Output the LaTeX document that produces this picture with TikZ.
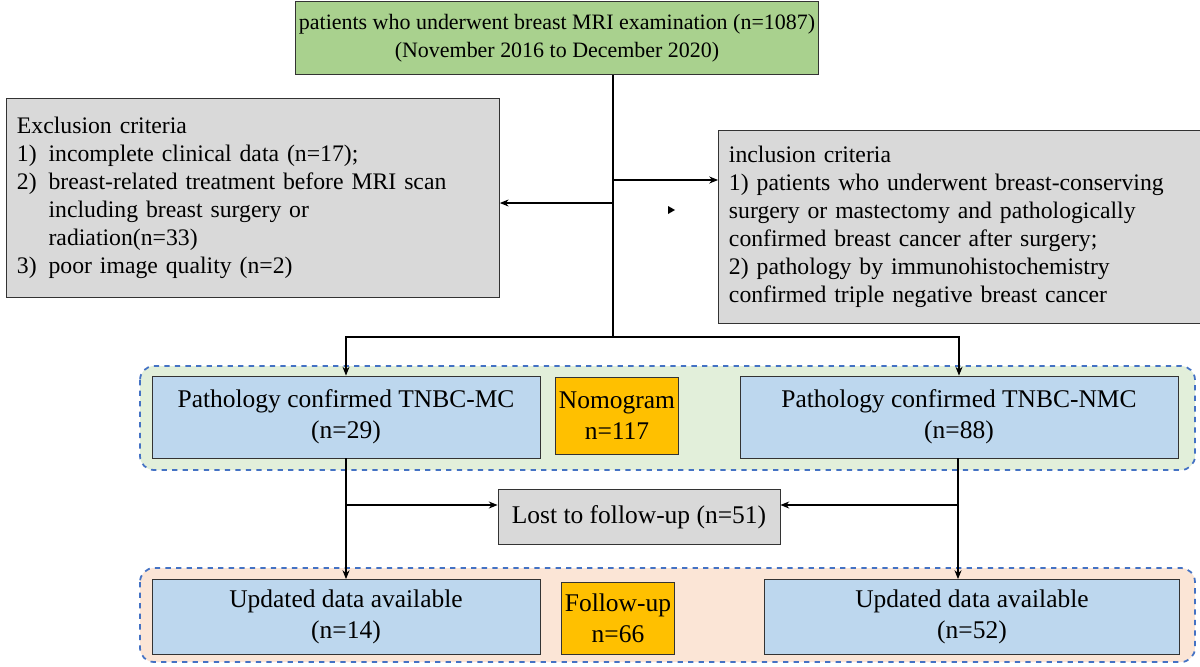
\documentclass[tikz,border=0pt]{standalone}
\usepackage{fontspec}
\setmainfont{Liberation Serif}
\usetikzlibrary{arrows.meta}
\definecolor{topgreen}{HTML}{A9D18E}
\definecolor{boxgray}{HTML}{D9D9D9}
\definecolor{boxblue}{HTML}{BDD7EE}
\definecolor{boxorange}{HTML}{FFC000}
\definecolor{areagreen}{HTML}{E2EFDA}
\definecolor{areapink}{HTML}{FBE5D6}
\definecolor{dashblue}{HTML}{4472C4}
\begin{document}
\begin{tikzpicture}[x=0.02cm,y=-0.02cm,font=\fontsize{14.5}{17.5}\selectfont]
\tikzset{box/.style={draw=black!80,line width=0.5pt,inner sep=2pt,align=center},
  crit/.style={box,fill=boxgray,inner sep=6pt,align=left,anchor=north west,font=\fontsize{13.5}{16}\selectfont},
  area/.style={draw=dashblue,dashed,line width=1pt,rounded corners=8pt},
  arr/.style={-{Stealth[length=5pt,width=4pt]},line width=0.6pt}}
\useasboundingbox (0,0) rectangle (1200,666);
% background areas
\draw [area,fill=areagreen] (140,366) rectangle (1195,470);
\draw [area,fill=areapink] (140,568) rectangle (1195,662);
% top
\node [box,fill=topgreen,minimum width=10.04cm,minimum height=1.46cm,font=\fontsize{12.5}{16}\selectfont] (top) at (557,38)
  {patients who underwent breast MRI examination (n=1087)\\(November 2016 to December 2020)};
\node [crit,minimum height=3.98cm,text width=9.44cm] (excl) at (6,98)
  {Exclusion criteria\\
  1)\enspace incomplete clinical data (n=17);\\
  2)\enspace breast-related treatment before MRI scan\\
  \phantom{2)}\enspace including breast surgery or\\
  \phantom{2)}\enspace radiation(n=33)\\
  3)\enspace poor image quality (n=2)};
\node [crit,minimum height=3.86cm,text width=9.4cm] (incl) at (718,130)
  {inclusion criteria\\
  1) patients who underwent breast-conserving\\
  surgery or mastectomy and pathologically\\
  confirmed breast cancer after surgery;\\
  2) pathology by immunohistochemistry\\
  confirmed triple negative breast cancer};
% middle row
\node [box,fill=boxblue,minimum width=7.76cm,minimum height=1.64cm] (mc) at (346,417)
  {Pathology confirmed TNBC-MC\\(n=29)};
\node [box,fill=boxorange,minimum width=1.9cm,minimum height=1.54cm] (nomo) at (617,416)
  {Nomogram\\n=117};
\node [box,fill=boxblue,minimum width=8.76cm,minimum height=1.64cm] (nmc) at (959,417)
  {Pathology confirmed TNBC-NMC\\(n=88)};
\node [box,fill=boxgray,minimum width=5.64cm,minimum height=1.1cm] (lost) at (639,517)
  {Lost to follow-up (n=51)};
% bottom row
\node [box,fill=boxblue,minimum width=7.76cm,minimum height=1.5cm] (upl) at (346,617)
  {Updated data available\\(n=14)};
\node [box,fill=boxorange,minimum width=1.6cm,minimum height=1.44cm] (fu) at (618,618)
  {Follow-up\\n=66};
\node [box,fill=boxblue,minimum width=8.3cm,minimum height=1.5cm] (upr) at (972,617)
  {Updated data available\\(n=52)};
% connectors
\coordinate (split) at (613,337);
\coordinate (tl) at (613,203);
\coordinate (tr) at (613,180);
\draw [line width=0.8pt] (top.south -| split) -- (split);
\draw [arr] (tl) -- (excl.east |- tl);
\draw [arr] (tr) -- (incl.west |- tr);
\fill (668,206) -- (675,210) -- (668,214) -- cycle;
\draw [arr] (split) -| (mc.north);
\draw [arr] (split) -| (nmc.north);
\draw [arr] (mc.south) -- (upl.north);
\draw [arr] (nmc.south -| 958,0) -- (upr.north -| 958,0);
\draw [arr] (346,505) -- (lost.west |- 0,505);
\draw [arr] (958,505) -- (lost.east |- 0,505);
\end{tikzpicture}
\end{document}
